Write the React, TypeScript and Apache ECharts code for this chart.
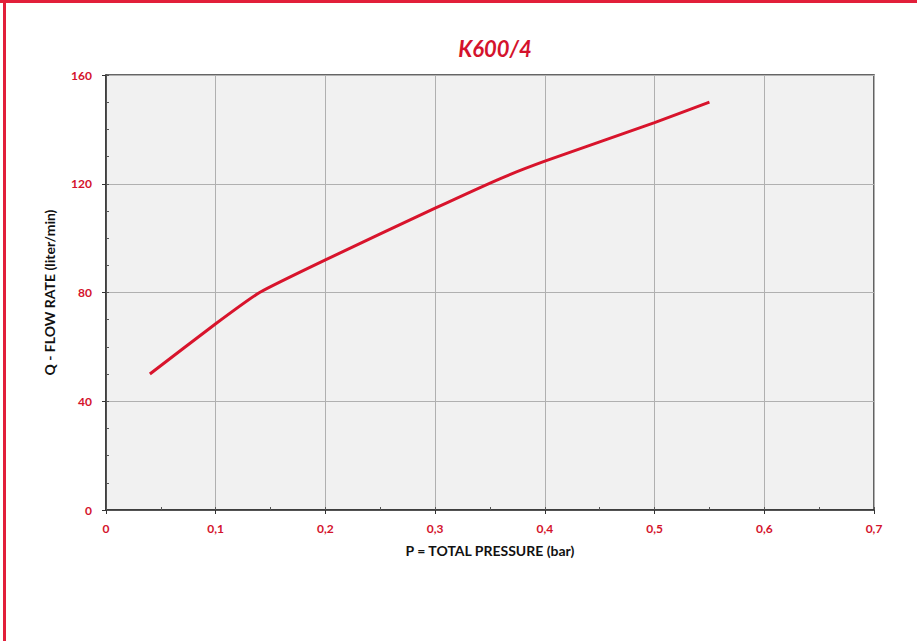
import React, { useEffect, useRef } from "react";
import * as echarts from "echarts";

const pressure = [0.04, 0.1, 0.14, 0.2, 0.3, 0.36, 0.4, 0.5, 0.55];
const flowRate = [50, 68.5, 80, 92, 111, 122, 128.3, 142.5, 150];
const xTicks = ["0", "0,1", "0,2", "0,3", "0,4", "0,5", "0,6", "0,7"];
const titleText = "K600/4";
const xName = "P = TOTAL PRESSURE (bar)";
const yName = "Q - FLOW RATE (liter/min)";

const RED = "#d4132c";
const FONT = "Lato, 'Noto Sans', sans-serif";

export default function App() {
  const ref = useRef<HTMLDivElement>(null);
  useEffect(() => {
    if (!ref.current) return;
    const chart = echarts.init(ref.current, undefined, { renderer: "svg" });
    const data = pressure.map((p, i) => [p, flowRate[i]]);
    chart.setOption({
      animation: false,
      backgroundColor: "#ffffff",
      title: {
        text: titleText,
        left: 490,
        top: 32,
        textAlign: "center",
        textStyle: { color: RED, fontSize: 22, fontWeight: "bold", fontStyle: "italic", fontFamily: FONT },
      },
      graphic: [
        { type: "rect", shape: { x: 0, y: 0, width: 917, height: 3 }, style: { fill: "#e21f3a" } },
        { type: "rect", shape: { x: 3, y: 0, width: 3, height: 641 }, style: { fill: "#e21f3a" } },
      ],
      grid: {
        left: 106,
        right: 43,
        top: 75,
        bottom: 131,
        show: true,
        backgroundColor: "#f1f1f1",
        borderColor: "#333",
        borderWidth: 1.5,
      },
      xAxis: [
        {
          type: "value",
          min: 0,
          max: 0.7,
          interval: 0.1,
          name: xName,
          nameLocation: "middle",
          nameGap: 33,
          nameTextStyle: { color: "#111", fontSize: 14, fontWeight: "bold", fontFamily: FONT },
          axisLine: { show: true, lineStyle: { color: "#333", width: 1.5 } },
          axisTick: { show: true, inside: false, length: 4, lineStyle: { color: "#333" } },
          axisLabel: {
            color: RED,
            fontSize: 12,
            fontWeight: "bold",
            fontFamily: FONT,
            margin: 12,
            formatter: (v: number) => xTicks[Math.round(v * 10)] ?? "",
          },
          splitLine: { show: true, lineStyle: { color: "#b0b0b0", width: 1 } },
        },
        {
          type: "value",
          min: 0,
          max: 0.7,
          interval: 0.05,
          position: "bottom",
          axisLine: { show: false },
          axisTick: { show: true, inside: true, length: 3, lineStyle: { color: "#555" } },
          axisLabel: { show: false },
          splitLine: { show: false },
        },
      ],
      yAxis: [
        {
          type: "value",
          min: 0,
          max: 160,
          interval: 40,
          name: yName,
          nameLocation: "middle",
          nameGap: 50,
          nameTextStyle: { color: "#111", fontSize: 14, fontWeight: "bold", fontFamily: FONT },
          axisLine: { show: true, lineStyle: { color: "#333", width: 1.5 } },
          axisTick: { show: true, inside: false, length: 4, lineStyle: { color: "#333" } },
          axisLabel: { color: RED, fontSize: 12, fontWeight: "bold", fontFamily: FONT, margin: 14 },
          splitLine: { show: true, lineStyle: { color: "#b0b0b0", width: 1 } },
        },
        {
          type: "value",
          min: 0,
          max: 160,
          interval: 10,
          position: "left",
          axisLine: { show: false },
          axisTick: { show: true, inside: true, length: 3, lineStyle: { color: "#555" } },
          axisLabel: { show: false },
          splitLine: { show: false },
        },
      ],
      series: [
        {
          type: "line",
          data,
          smooth: 0.15,
          showSymbol: false,
          lineStyle: { color: "#d8142c", width: 3 },
        },
      ],
    });
    return () => chart.dispose();
  }, []);
  return (
    <div
      ref={ref}
      style={{ position: "fixed", left: 0, top: 0, width: 917, height: 641 }}
    />
  );
}
